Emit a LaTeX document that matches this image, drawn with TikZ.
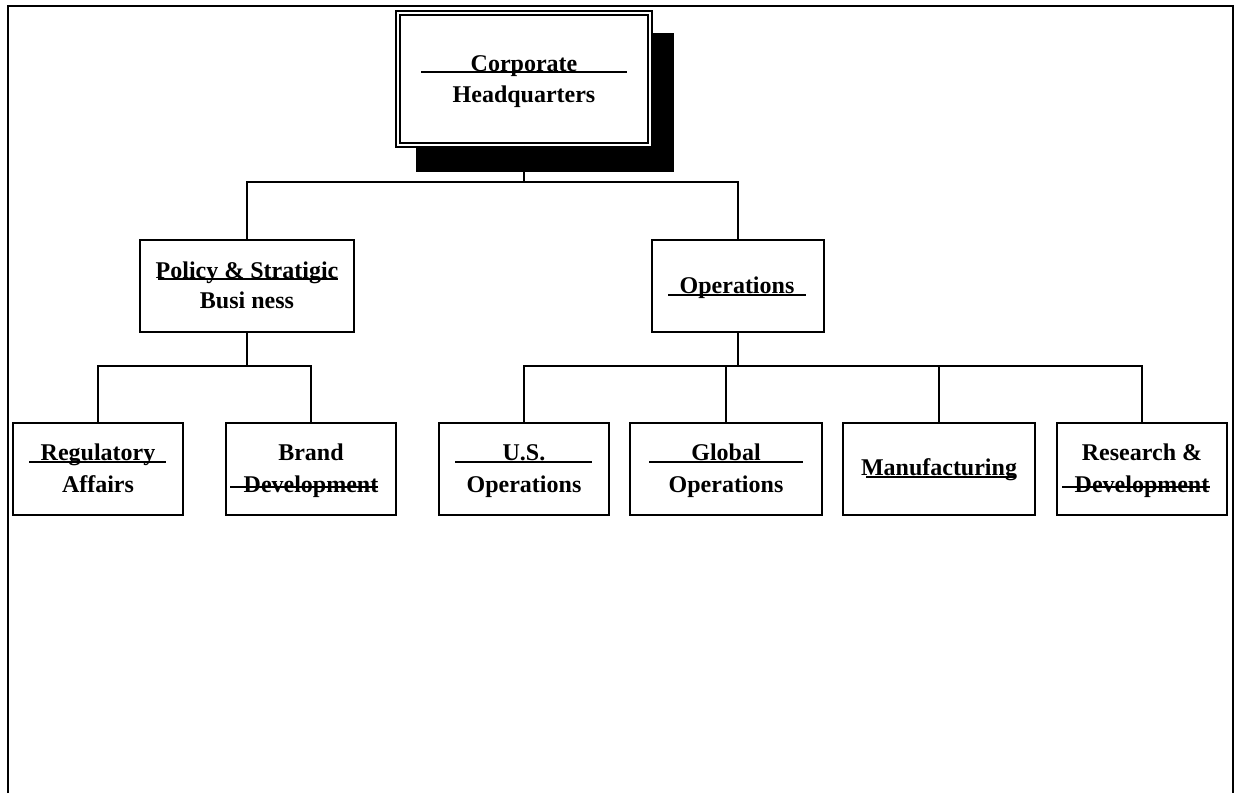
\documentclass[tikz,border=0pt]{standalone}
\usepackage{fontspec}
\setmainfont{Liberation Serif}
\usetikzlibrary{calc}
\begin{document}
\begin{tikzpicture}[x=1pt, y=-1pt,
  box/.style={draw, line width=1.6pt, fill=white, minimum height=92pt, inner sep=0pt},
  lbl/.style={font=\fontsize{24}{31}\selectfont\bfseries, anchor=base, inner sep=0pt},
  link/.style={line width=1.7pt},
  rule/.style={line width=1.5pt},
  frame/.style={line width=2.4pt}]
\useasboundingbox (0,0) rectangle (1237,793);

% open page frame
\draw[frame] (8,793) -- (8,6) -- (1233,6) -- (1233,793);

% headquarters: drop shadow and double-ruled box
\fill (416,33) rectangle (674,172);
\node[draw, double, double distance=2.2pt, line width=1.7pt, fill=white,
      minimum width=252pt, minimum height=132pt, inner sep=0pt] (hq) at (524,79) {};

% second level
\node[box, minimum width=214pt] (pol) at (247,286) {};
\node[box, minimum width=172pt] (ops) at (738,286) {};

% third level
\node[box, minimum width=170pt] (reg)   at (98,469)   {};
\node[box, minimum width=170pt] (brand) at (311,469)  {};
\node[box, minimum width=170pt] (us)    at (524,469)  {};
\node[box, minimum width=192pt] (glob)  at (726,469)  {};
\node[box, minimum width=192pt] (man)   at (939,469)  {};
\node[box, minimum width=170pt] (res)   at (1142,469) {};

% connectors
\coordinate (bus1) at (524,182);
\coordinate (bus2) at (247,366);
\coordinate (bus3) at (738,366);
\draw[link] (hq.south) -- (bus1);
\draw[link] (pol.north) |- (bus1) -| (ops.north);
\draw[link] (pol.south) -- (bus2);
\draw[link] (reg.north) |- (bus2) -| (brand.north);
\draw[link] (ops.south) -- (bus3);
\draw[link] (us.north) |- (bus3) -| (res.north);
\draw[link] (glob.north) -- (glob.north |- bus3);
\draw[link] (man.north) -- (man.north |- bus3);

% labels
\node[lbl] (hqA)    at (524,71)   {Corporate};
\node[lbl] (hqB)    at (524,102)  {Headquarters};
\node[lbl] (polA)   at (247,278)  {Policy \& Stratigic};
\node[lbl] (polB)   at (247,308)  {Busi ness};
\node[lbl] (opsA)   at (737,293)  {Operations};
\node[lbl] (regA)   at (98,460)   {Regulatory};
\node[lbl] (regB)   at (98,492)   {Affairs};
\node[lbl] (brandA) at (311,460)  {Brand};
\node[lbl] (brandB) at (311,492)  {Development};
\node[lbl] (usA)    at (524,460)  {U.S.};
\node[lbl] (usB)    at (524,492)  {Operations};
\node[lbl] (globA)  at (726,460)  {Global};
\node[lbl] (globB)  at (726,492)  {Operations};
\node[lbl] (manA)   at (939,475)  {Manufacturing};
\node[lbl] (resA)   at (1142,460) {Research \&};
\node[lbl] (resB)   at (1142,492) {Development};

% underlines and strike-throughs
\draw[rule] (421,72)  -- (627,72);
\draw[rule] (158,279) -- (338,279);
\draw[rule] (668,295) -- (806,295);
\draw[rule] (29,462)  -- (166,462);
\draw[rule] (455,462) -- (592,462);
\draw[rule] (649,462) -- (803,462);
\draw[rule] (866,477) -- (1015,477);
\draw[rule] (230,487) -- (378,487);
\draw[rule] (1062,487) -- (1210,487);
\end{tikzpicture}
\end{document}
